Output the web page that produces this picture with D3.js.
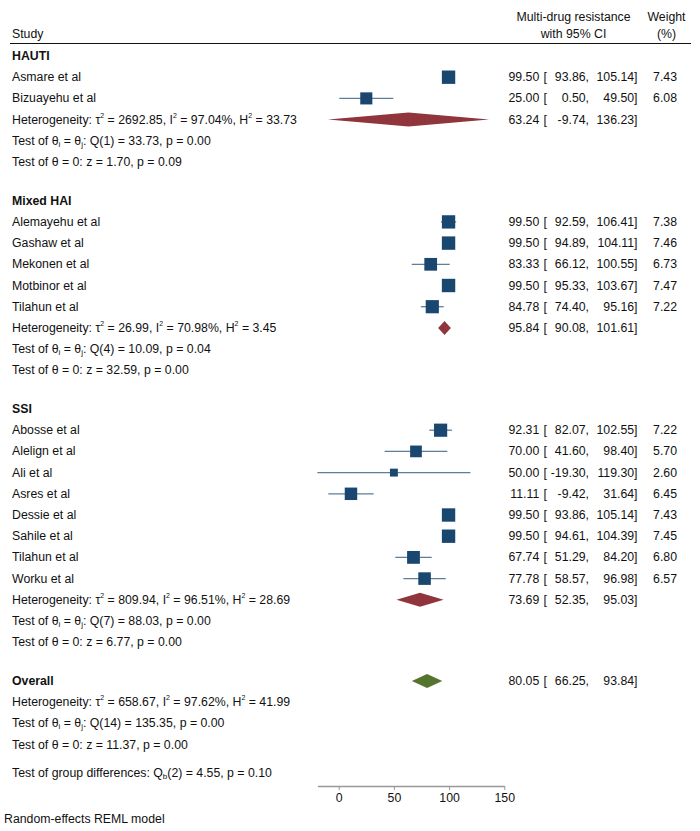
<!DOCTYPE html>
<html><head><meta charset="utf-8">
<script src="https://cdn.jsdelivr.net/npm/d3@7/dist/d3.min.js"></script>
<style>
body{margin:0;background:#fff;}
text{font-family:"Liberation Sans",Arial,sans-serif;font-size:12.3px;fill:#111;}
</style></head><body>
<svg id="chart" width="700" height="831"></svg>
<script>
// ---------- data ----------
const groups = ["HAUTI", "Mixed HAI", "SSI"];
const studies = ["Asmare et al","Bizuayehu et al",
  "Alemayehu et al","Gashaw et al","Mekonen et al","Motbinor et al","Tilahun et al",
  "Abosse et al","Alelign et al","Ali et al","Asres et al","Dessie et al","Sahile et al","Tilahun et al","Worku et al"];
const studyGroup = [0,0, 1,1,1,1,1, 2,2,2,2,2,2,2,2];
const est = [99.50,25.00, 99.50,99.50,83.33,99.50,84.78, 92.31,70.00,50.00,11.11,99.50,99.50,67.74,77.78];
const lo  = [93.86,0.50, 92.59,94.89,66.12,95.33,74.40, 82.07,41.60,-19.30,-9.42,93.86,94.61,51.29,58.57];
const hi  = [105.14,49.50, 106.41,104.11,100.55,103.67,95.16, 102.55,98.40,119.30,31.64,105.14,104.39,84.20,96.98];
const weight = [7.43,6.08, 7.38,7.46,6.73,7.47,7.22, 7.22,5.70,2.60,6.45,7.43,7.45,6.80,6.57];

const groupEst = [63.24, 95.84, 73.69];
const groupLo  = [-9.74, 90.08, 52.35];
const groupHi  = [136.23, 101.61, 95.03];
const groupTau2 = ["2692.85","26.99","809.94"];
const groupI2   = ["97.04","70.98","96.51"];
const groupH2   = ["33.73","3.45","28.69"];
const groupQdf  = [1, 4, 7];
const groupQ    = ["33.73","10.09","88.03"];
const groupQp   = ["0.00","0.04","0.00"];
const groupZ    = ["1.70","32.59","6.77"];
const groupZp   = ["0.09","0.00","0.00"];

const overallEst = 80.05, overallLo = 66.25, overallHi = 93.84;
const overallTau2 = "658.67", overallI2 = "97.62", overallH2 = "41.99";
const overallQdf = 14, overallQ = "135.35", overallQp = "0.00";
const overallZ = "11.37", overallZp = "0.00";
const diffDf = 2, diffQ = "4.55", diffP = "0.10";

const xTicks = [0, 50, 100, 150];

// ---------- layout ----------
const svg = d3.select("#chart");
const step = 21.2, blank = 17.5, y0 = 56;
const xText = 12;
const xEst = 539.3, xBr = 543.5, xLo = 589, xHi = 637.5, xW = 677;
const colSquare = "#1a476f", colGroup = "#90353b", colOverall = "#55752f";

const x = d3.scaleLinear().domain([d3.min(lo), 150]).range([317.4, 504.3]);
const size = d3.scaleSqrt().domain([0, d3.max(weight)]).range([0, 13.4]);

// header
svg.append("text").attr("x", xText).attr("y", 38).text("Study");
svg.append("text").attr("x", 573.5).attr("y", 21).attr("text-anchor","middle").text("Multi-drug resistance");
svg.append("text").attr("x", 573.5).attr("y", 38).attr("text-anchor","middle").text("with 95% CI");
svg.append("text").attr("x", 666.5).attr("y", 21).attr("text-anchor","middle").text("Weight");
svg.append("text").attr("x", 666.5).attr("y", 38).attr("text-anchor","middle").text("(%)");
svg.append("line").attr("x1", 10).attr("x2", 691).attr("y1", 43.5).attr("y2", 43.5)
  .attr("stroke", "#111").attr("stroke-width", 1);

const fmt2 = d3.format(".2f");
const fmt = v => fmt2(v).replace("\u2212", "-");
function ciText(y, e, l, h) {
  svg.append("text").attr("x", xEst).attr("y", y + 4).attr("text-anchor","end").text(fmt(e));
  svg.append("text").attr("x", xBr).attr("y", y + 4).text("[");
  svg.append("text").attr("x", xLo).attr("y", y + 4).attr("text-anchor","end").text(fmt(l) + ",");
  svg.append("text").attr("x", xHi).attr("y", y + 4).attr("text-anchor","end").text(fmt(h) + "]");
}
// parts: strings, {sup:..} or {sub:..}; baseline restored on the following string
function richText(y, parts) {
  const t = svg.append("text").attr("x", xText).attr("y", y + 4);
  let pending = 0;
  parts.forEach(p => {
    if (typeof p === "string") {
      const sp = t.append("tspan").text(p);
      if (pending) { sp.attr("dy", pending); pending = 0; }
    } else if (p.sup) {
      t.append("tspan").attr("font-size", 7).attr("dy", -6).text(p.sup); pending = 6;
    } else if (p.sub) {
      t.append("tspan").attr("font-size", 8).attr("dy", 2).text(p.sub); pending = -2;
    }
  });
  return t;
}
function hetLines(y, tau2, i2, h2, qdf, q, qp, z, zp) {
  richText(y, ["Heterogeneity: \u03c4", {sup:"2"}, " = " + tau2 + ", I", {sup:"2"}, " = " + i2 + "%, H", {sup:"2"}, " = " + h2]);
  richText(y + step, ["Test of \u03b8", {sub:"i"}, " = \u03b8", {sub:"j"}, ": Q(" + qdf + ") = " + q + ", p = " + qp]);
  richText(y + 2*step, ["Test of \u03b8 = 0: z = " + z + ", p = " + zp]);
}
function diamond(y, e, l, h, col) {
  const hh = 7;
  svg.append("path")
    .attr("d", `M${x(l)},${y} L${x(e)},${y-hh} L${x(h)},${y} L${x(e)},${y+hh} Z`)
    .attr("fill", col);
}

let y = y0;
groups.forEach((g, gi) => {
  svg.append("text").attr("x", xText).attr("y", y + 4).attr("font-weight", "bold").text(g);
  y += step;
  studies.forEach((s, i) => {
    if (studyGroup[i] !== gi) return;
    svg.append("text").attr("x", xText).attr("y", y + 4).text(s);
    svg.append("line").attr("x1", x(lo[i])).attr("x2", x(hi[i])).attr("y1", y).attr("y2", y)
      .attr("stroke", colSquare).attr("stroke-opacity", 0.7).attr("stroke-width", 1.3);
    const sz = size(weight[i]);
    svg.append("rect").attr("x", x(est[i]) - sz/2).attr("y", y - sz/2)
      .attr("width", sz).attr("height", sz).attr("fill", colSquare);
    ciText(y, est[i], lo[i], hi[i]);
    svg.append("text").attr("x", xW).attr("y", y + 4).attr("text-anchor","end").text(fmt(weight[i]));
    y += step;
  });
  diamond(y, groupEst[gi], groupLo[gi], groupHi[gi], colGroup);
  ciText(y, groupEst[gi], groupLo[gi], groupHi[gi]);
  hetLines(y, groupTau2[gi], groupI2[gi], groupH2[gi], groupQdf[gi], groupQ[gi], groupQp[gi], groupZ[gi], groupZp[gi]);
  y += 3*step + blank;
});

// overall
svg.append("text").attr("x", xText).attr("y", y + 4).attr("font-weight", "bold").text("Overall");
diamond(y, overallEst, overallLo, overallHi, colOverall);
ciText(y, overallEst, overallLo, overallHi);
y += step;
hetLines(y, overallTau2, overallI2, overallH2, overallQdf, overallQ, overallQp, overallZ, overallZp);
y += 2*step + 28;
richText(y, ["Test of group differences: Q", {sub:"b"}, "(" + diffDf + ") = " + diffQ + ", p = " + diffP]);

// axis
const axisY = 786;
const ax = svg.append("g").attr("transform", `translate(0,${axisY})`)
  .call(d3.axisBottom(x).tickValues(xTicks).tickSize(4).tickSizeOuter(0).tickPadding(3));
ax.select(".domain").attr("stroke", "#999").attr("stroke-width", 1.3);
ax.selectAll(".tick line").attr("stroke", "#999");
ax.selectAll(".tick text").attr("font-size", 12.3).attr("font-family", "Liberation Sans, Arial, sans-serif").attr("fill", "#111");

svg.append("text").attr("x", 4).attr("y", 823).text("Random-effects REML model");
</script>
</body></html>
